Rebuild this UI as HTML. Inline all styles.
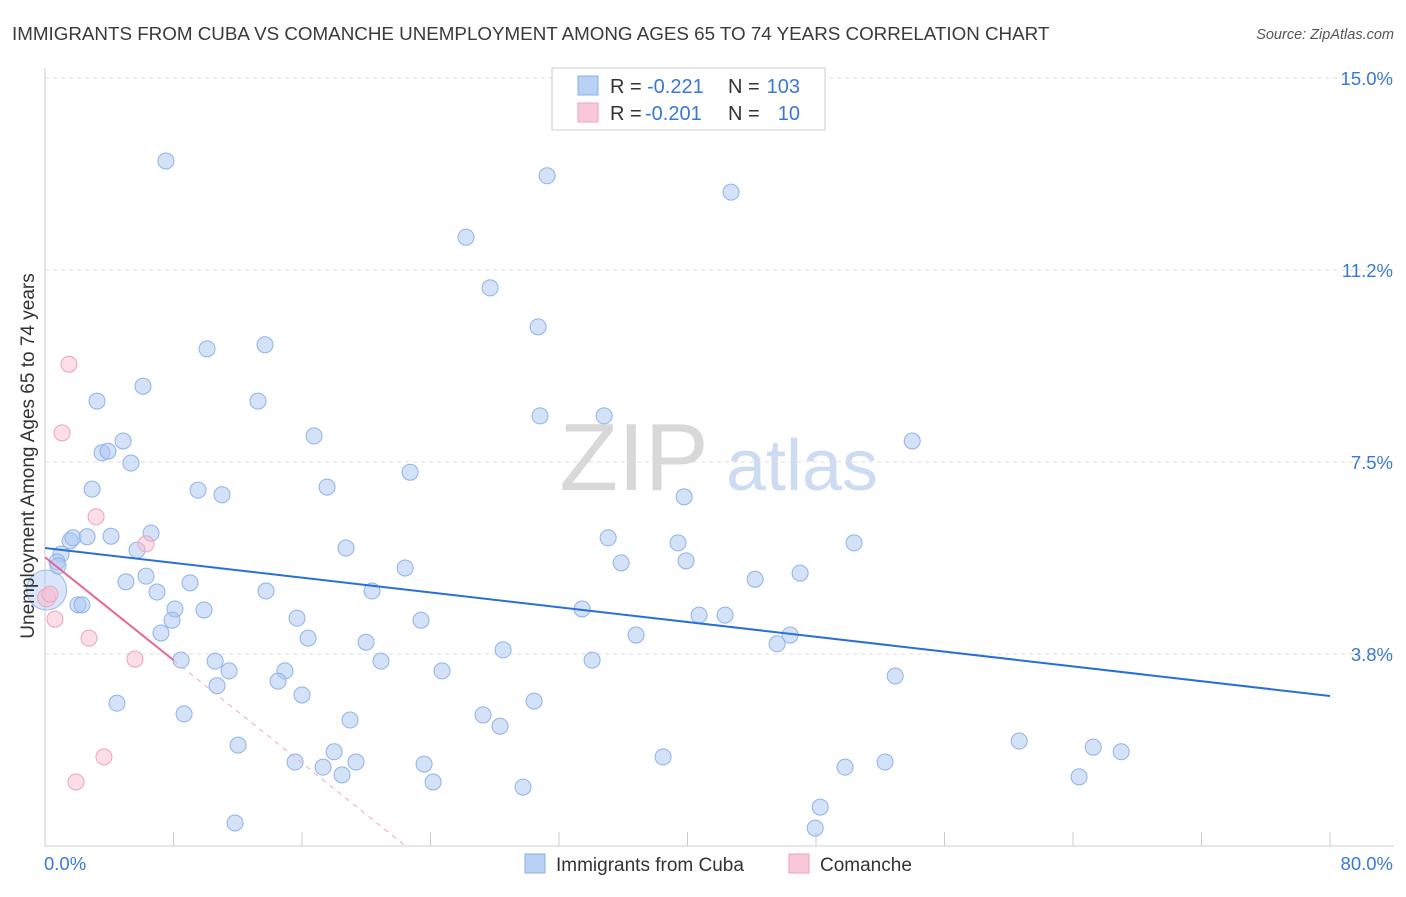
<!DOCTYPE html>
<html><head><meta charset="utf-8">
<style>
body{margin:0;background:#fff;font-family:"Liberation Sans",sans-serif;}
svg text{font-family:"Liberation Sans",sans-serif;}
</style></head>
<body>
<svg width="1406" height="892" viewBox="0 0 1406 892">
<text x="12" y="40" font-size="18.8" fill="#3a3a3a">IMMIGRANTS FROM CUBA VS COMANCHE UNEMPLOYMENT AMONG AGES 65 TO 74 YEARS CORRELATION CHART</text>
<text x="1394" y="39" font-size="14.5" fill="#555" font-style="italic" text-anchor="end">Source: ZipAtlas.com</text>
<g>
<text x="634" y="490" font-size="96" fill="#d8d8d8" text-anchor="middle" font-family="Liberation Serif">ZIP</text>
<text x="802" y="490" font-size="72" fill="#cddcf2" text-anchor="middle">atlas</text>
</g>
<g id="grid"></g>
<g id="axes"></g>
<g id="marks"></g>
<text transform="translate(34,456) rotate(-90)" font-size="19" fill="#333" text-anchor="middle">Unemployment Among Ages 65 to 74 years</text>
<g>
<rect x="552" y="68" width="273" height="62" fill="#fff" stroke="#ccc"/>
<rect x="578" y="76" width="20" height="19" fill="#b9d1f5" stroke="#8ab0e8"/>
<rect x="578" y="103" width="20" height="19" fill="#f9c8d7" stroke="#eea3bb"/>
<g font-size="20">
<text x="610" y="93" fill="#333">R =</text><text x="647" y="93" fill="#3a78d8">-0.221</text>
<text x="728" y="93" fill="#333">N =</text><text x="800" y="93" fill="#3a78d8" text-anchor="end">103</text>
</g>
<g font-size="20">
<text x="610" y="120" fill="#333">R =</text><text x="645" y="120" fill="#3a78d8">-0.201</text>
<text x="728" y="120" fill="#333">N =</text><text x="800" y="120" fill="#3a78d8" text-anchor="end">10</text>
</g>
</g>
<g>
<rect x="525" y="854" width="20" height="19" fill="#b9d1f5" stroke="#8ab0e8"/>
<text x="556" y="871" font-size="19" fill="#333">Immigrants from Cuba</text>
<rect x="789" y="854" width="20" height="19" fill="#f9c8d7" stroke="#eea3bb"/>
<text x="820" y="871" font-size="19" fill="#333">Comanche</text>
</g>
</svg>
<script>
const yTicks=[3.75,7.5,11.25,15.0];
const yTickLabels=["3.8%","7.5%","11.2%","15.0%"];
const xTicks=[0,8,16,24,32,40,48,56,64,72,80];
const cubaX=[7.53,31.26,42.71,26.21,27.71,30.70,10.09,13.70,6.10,3.24,13.26,30.82,34.81,16.75,4.86,3.55,3.92,5.35,22.73,53.99,2.93,9.53,11.02,17.56,39.79,1.56,1.74,2.62,4.11,6.60,5.73,1.00,0.75,0.81,18.74,35.06,39.41,50.37,35.87,39.91,22.42,5.04,6.29,9.03,6.97,13.76,20.36,44.21,47.01,2.05,2.30,8.09,9.90,7.91,15.69,23.41,33.44,40.72,42.34,7.22,16.38,19.99,36.80,46.39,45.58,28.52,8.47,10.59,11.46,20.92,34.06,24.72,14.94,14.51,10.71,16.00,52.93,4.48,30.45,8.66,27.27,18.99,28.33,60.65,65.26,67.00,12.02,18.00,38.48,15.57,17.31,19.36,23.60,49.81,52.30,18.49,24.16,29.76,64.38,48.26,47.95,11.83];
const cubaY=[13.38,13.09,12.77,11.89,10.90,10.14,9.71,9.79,8.98,8.69,8.69,8.40,8.40,8.01,7.91,7.68,7.71,7.48,7.30,7.91,6.97,6.95,6.86,7.01,6.82,5.96,6.02,6.04,6.05,6.11,5.78,5.70,5.55,5.47,5.82,6.02,5.92,5.92,5.53,5.57,5.43,5.16,5.27,5.14,4.96,4.98,4.98,5.21,5.33,4.71,4.71,4.63,4.61,4.41,4.45,4.41,4.63,4.51,4.51,4.16,4.06,3.98,4.12,4.12,3.95,3.83,3.63,3.61,3.42,3.61,3.63,3.42,3.42,3.22,3.13,2.95,3.32,2.79,2.83,2.58,2.56,2.46,2.34,2.05,1.93,1.84,1.97,1.84,1.74,1.64,1.54,1.64,1.60,1.54,1.64,1.39,1.25,1.15,1.35,0.76,0.35,0.45];
const comX=[1.49,1.06,3.18,6.29,0.31,0.62,2.74,5.60,3.67,1.93];
const comY=[9.41,8.07,6.43,5.90,4.92,4.43,4.06,3.65,1.74,1.25];
const cubaTrend=[5.82,2.93];
const comTrend=[5.64,3.63];
const comTrendEndX=8;

const NS="http://www.w3.org/2000/svg";
const X0=45,X1=1330,Y0=846,PX=(X1-X0)/80,PY=51.2;
const sx=v=>X0+v*PX, sy=v=>Y0-v*PY;
function mk(tag,attrs,parent){const e=document.createElementNS(NS,tag);for(const k in attrs)e.setAttribute(k,attrs[k]);document.getElementById(parent).appendChild(e);return e;}

yTicks.forEach((t,i)=>{
 const l=mk('line',{x1:X0,x2:1394,y1:sy(t),y2:sy(t),stroke:'#ddd','stroke-dasharray':'4,4'},'grid');
 
 
 const tx=mk('text',{x:1393,y:sy(t)+7,'font-size':18.5,fill:'#3a78d8','text-anchor':'end'},'axes');
 tx.textContent=yTickLabels[i];
 
 
});
let a=mk('line',{x1:X0,x2:X0,y1:68,y2:Y0,stroke:'#ccc'},'axes');


a=mk('line',{x1:X0,x2:1394,y1:Y0,y2:Y0,stroke:'#ccc'},'axes');


xTicks.forEach(t=>{
 const l=mk('line',{x1:sx(t),x2:sx(t),y1:Y0-14,y2:Y0,stroke:'#ccc'},'axes');
 
 
});
let t1=mk('text',{x:44,y:870,'font-size':18.5,fill:'#3a78d8'},'axes');t1.textContent='0.0%';


t1=mk('text',{x:1393,y:870,'font-size':18.5,fill:'#3a78d8','text-anchor':'end'},'axes');t1.textContent='80.0%';



let b=mk('circle',{cx:sx(0.1),cy:sy(5.0),r:20,fill:'rgba(160,190,240,0.4)',stroke:'#9dbbe9'},'marks');


b=mk('circle',{cx:sx(0.1),cy:sy(4.85),r:9,fill:'rgba(248,190,210,0.5)',stroke:'#eea3bb'},'marks');



cubaX.forEach((v,i)=>{
 const c=mk('circle',{cx:sx(v),cy:sy(cubaY[i]),r:8,fill:'rgba(170,198,242,0.5)',stroke:'#8fb2e8','stroke-width':1},'marks');
 
 
});
comX.forEach((v,i)=>{
 const c=mk('circle',{cx:sx(v),cy:sy(comY[i]),r:8,fill:'rgba(248,190,210,0.5)',stroke:'#eea3bb','stroke-width':1},'marks');
 
 
});
let tl=mk('line',{x1:sx(0),y1:sy(cubaTrend[0]),x2:sx(80),y2:sy(cubaTrend[1]),stroke:'#2a6fd6','stroke-width':2},'marks');


const slope=(comTrend[1]-comTrend[0])/comTrendEndX;
const zeroX=-comTrend[0]/slope;
tl=mk('line',{x1:sx(comTrendEndX),y1:sy(comTrend[1]),x2:sx(zeroX),y2:sy(0),stroke:'#f0a8be','stroke-width':1,'stroke-dasharray':'5,5'},'marks');


tl=mk('line',{x1:sx(0),y1:sy(comTrend[0]),x2:sx(comTrendEndX),y2:sy(comTrend[1]),stroke:'#e8668f','stroke-width':2},'marks');


</script>
</body></html>
